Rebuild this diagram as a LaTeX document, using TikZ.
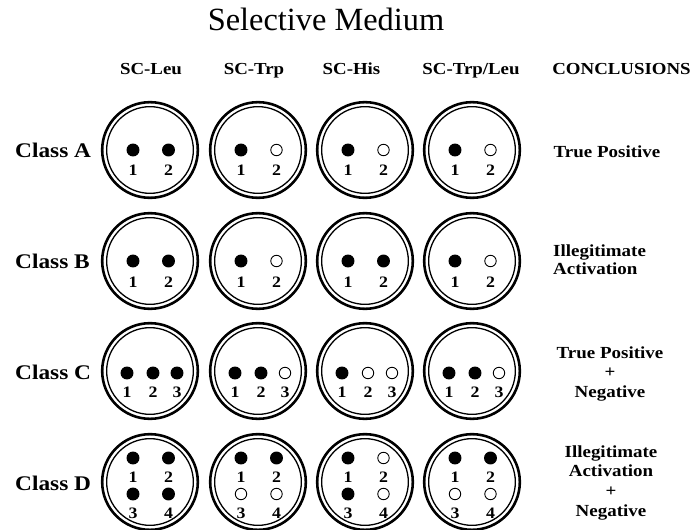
\documentclass[tikz,border=0pt]{standalone}
\usepackage{fontspec}
\setmainfont{Liberation Serif}
\newfontfamily\labfont{Liberation Serif}[FakeStretch=1.12]
\usetikzlibrary{calc}

\tikzset{
  plate/.style={circle, draw, line width=2.6pt, minimum size=96pt, inner sep=0pt},
  rim/.style={line width=1.3pt},
  fullspot/.style={circle, fill=black, inner sep=0pt, minimum size=13pt},
  openspot/.style={circle, draw, line width=0.9pt, inner sep=0pt, minimum size=11.5pt},
  num/.style={font=\labfont\bfseries\fontsize{16}{16}\selectfont, inner sep=0pt, anchor=base},
  medium/.style={font=\labfont\bfseries\fontsize{16.9}{18}\selectfont, inner sep=0pt, anchor=base},
  class/.style={font=\labfont\bfseries\fontsize{20.9}{22}\selectfont, inner sep=0pt, anchor=base west},
  verdict/.style={font=\labfont\bfseries\fontsize{17}{#1}\selectfont, inner sep=0pt, anchor=base},
}

\begin{document}
\begin{tikzpicture}[x=1bp, y=-1bp]
  \useasboundingbox (0,0) rectangle (693,530);

  \node[font=\fontsize{32.5}{36}\selectfont, inner sep=0pt, anchor=base] (title) at (326,31) {Selective Medium};

  % column heads
  \foreach \x/\t [count=\i] in {151/SC-Leu, 254/SC-Trp, 351.5/SC-His, 471/{SC-Trp/Leu}, 621.5/CONCLUSIONS}
    \node[medium] (head\i) at (\x,75) {\t};

  % plates
  \foreach \r/\y in {A/150, B/261, C/371, D/482}{
    \node[class] (class\r) at (15,\y+8) {Class \r};
    \foreach \c/\x in {1/150, 2/258, 3/365, 4/472}{
      \node[plate] (\r\c) at (\x,\y) {};
      \draw[rim] (\r\c.center) circle (43.5pt);
    }
  }

  % two colonies
  \foreach \p/\sa/\sb in {A1/fullspot/fullspot, A2/fullspot/openspot, A3/fullspot/openspot, A4/fullspot/openspot,
                          B1/fullspot/fullspot, B2/fullspot/openspot, B3/fullspot/fullspot, B4/fullspot/openspot}
    \foreach \s/\dx/\k in {\sa/-17/1, \sb/18.5/2}{
      \node[\s] (\p-\k) at ($(\p)+(\dx,0)$) {};
      \node[num] (\p-n\k) at ($(\p)+(\dx,26)$) {\k};
    }

  % three colonies
  \foreach \p/\sa/\sb/\sc in {C1/fullspot/fullspot/fullspot, C2/fullspot/fullspot/openspot,
                              C3/fullspot/openspot/openspot, C4/fullspot/fullspot/openspot}
    \foreach \s/\dx/\k in {\sa/-23/1, \sb/3/2, \sc/27/3}{
      \node[\s] (\p-\k) at ($(\p)+(\dx,2)$) {};
      \node[num] (\p-n\k) at ($(\p)+(\dx,26)$) {\k};
    }

  % four colonies
  \foreach \p/\sa/\sb/\sc/\sd in {D1/fullspot/fullspot/fullspot/fullspot, D2/fullspot/fullspot/openspot/openspot,
                                  D3/fullspot/openspot/fullspot/openspot, D4/fullspot/fullspot/openspot/openspot}
    \foreach \s/\dx/\dy/\k in {\sa/-17/-24/1, \sb/18.5/-24/2, \sc/-17/12/3, \sd/18.5/12/4}{
      \node[\s] (\p-\k) at ($(\p)+(\dx,\dy)$) {};
      \node[num] (\p-n\k) at ($(\p)+(\dx,\dy+24)$) {\k};
    }

  % conclusions (base = last line)
  \node[verdict=20, align=center] (verdictA) at (607,158) {True Positive};
  \node[verdict=19, align=left, anchor=base west] (verdictB) at (553,275) {Illegitimate\\Activation};
  \node[verdict=19.5, align=center] (verdictC) at (610,397) {True Positive\\+\\Negative};
  \node[verdict=19.7, align=center] (verdictD) at (611,516) {Illegitimate\\Activation\\+\\Negative};
\end{tikzpicture}
\end{document}
